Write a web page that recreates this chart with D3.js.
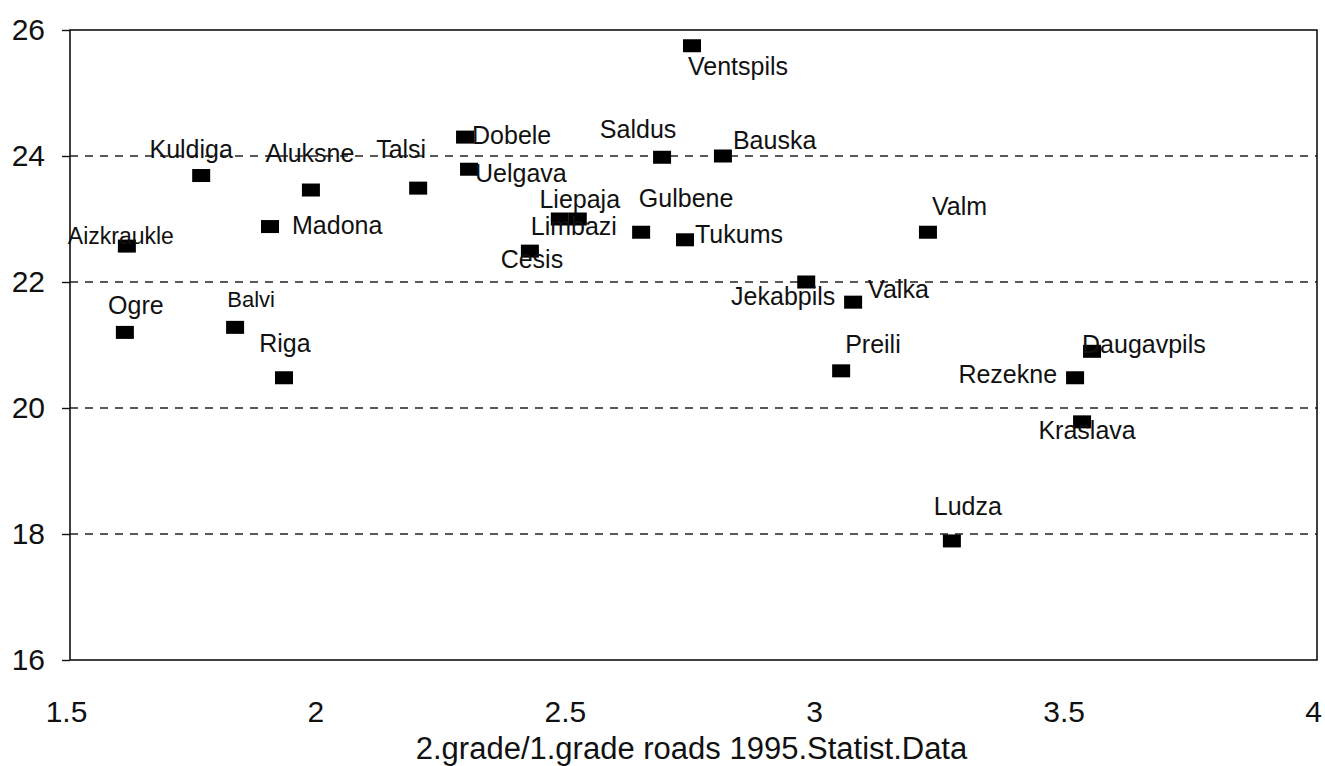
<!doctype html>
<html lang="en">
<head>
<meta charset="utf-8" />
<title>Roads scatter</title>
<script src="https://cdn.jsdelivr.net/npm/d3@7"></script>
<style>
	body { margin: 0; background: #fff; }
	svg { display: block; }
	text { font-family: "Liberation Sans", Arial, sans-serif; fill: #111; }
	.tick-label { font-size: 30px; }
	.axis-title { font-size: 31px; }
	.pt-label { font-size: 25px; }
</style>
</head>
<body>
<svg width="1325" height="766"></svg>
<script>
	// district names and values
	var districts = ["Aizkraukle", "Ogre", "Kuldiga", "Balvi", "Madona", "Riga", "Aluksne", "Talsi",
		"Dobele", "Uelgava", "Cesis", "Limbazi", "Liepaja", "Gulbene", "Saldus", "Tukums",
		"Ventspils", "Bauska", "Jekabpils", "Preili", "Valka", "Valm", "Ludza", "Rezekne",
		"Kraslava", "Daugavpils"];
	var ratio = [1.614, 1.610, 1.763, 1.831, 1.901, 1.929, 1.983, 2.198,
		2.292, 2.300, 2.422, 2.482, 2.518, 2.645, 2.687, 2.733,
		2.747, 2.809, 2.976, 3.046, 3.070, 3.220, 3.268, 3.515,
		3.529, 3.549];
	var yValue = [22.57, 21.2, 23.69, 21.28, 22.88, 20.48, 23.46, 23.49,
		24.3, 23.79, 22.49, 23.0, 23.0, 22.79, 23.98, 22.67,
		25.75, 24.0, 22.0, 20.59, 21.68, 22.79, 17.89, 20.48,
		19.78, 20.9];
	var xTicks = [1.5, 2, 2.5, 3, 3.5, 4];
	var yTicks = [16, 18, 20, 22, 24, 26];
	var gridTicks = [18, 20, 22, 24];
	var xTitle = "2.grade/1.grade roads 1995.Statist.Data";

	// where each label sits around its marker (anchor, dx, dy to baseline, optional size)
	var labelPos = {
		Aizkraukle: ["middle", -6, -2, 23], Ogre: ["middle", 11, -18], Kuldiga: ["middle", -10, -18],
		Balvi: ["middle", 16, -20, 22], Madona: ["start", 22, 7], Riga: ["middle", 1, -26],
		Aluksne: ["middle", -1, -28], Talsi: ["middle", -17, -30], Dobele: ["start", 7, 7],
		Uelgava: ["start", 6, 13], Cesis: ["middle", 2, 17], Limbazi: ["middle", 14, 16],
		Liepaja: ["middle", 2, -11], Gulbene: ["middle", 45, -25], Saldus: ["middle", -24, -19],
		Tukums: ["start", 10, 3], Ventspils: ["start", -4, 29], Bauska: ["start", 10, -7],
		Jekabpils: ["middle", -23, 23], Preili: ["start", 4, -18], Valka: ["start", 15, -4],
		Valm: ["start", 4, -17], Ludza: ["middle", 16, -26], Rezekne: ["end", -18, 5],
		Kraslava: ["middle", 5, 17], Daugavpils: ["start", -10, 2]
	};

	var svg = d3.select("svg");
	var pLeft = 70, pRight = 1317, pTop = 30, pBottom = 660;

	var x = d3.scaleLinear().domain([1.5, 4]).range([pLeft, pRight]);
	var y = d3.scaleLinear().domain([16, 26]).range([pBottom, pTop]);

	var points = districts.map(function (d, i) {
		return { name: d, x: ratio[i], y: yValue[i] };
	});

	// dashed grid
	svg.append("g").selectAll("line")
		.data(gridTicks)
		.join("line")
		.attr("x1", pLeft).attr("x2", pRight)
		.attr("y1", function (d) { return y(d); })
		.attr("y2", function (d) { return y(d); })
		.attr("stroke", "#222")
		.attr("stroke-width", 1.4)
		.attr("stroke-dasharray", "8,7");

	// frame
	svg.append("rect")
		.attr("x", pLeft).attr("y", pTop)
		.attr("width", pRight - pLeft).attr("height", pBottom - pTop)
		.attr("fill", "none")
		.attr("stroke", "#111")
		.attr("stroke-width", 1.6);

	// y axis
	var yAxis = d3.axisLeft(y).tickValues(yTicks).tickSize(8).tickFormat(d3.format("d"));
	var gy = svg.append("g").attr("transform", "translate(" + pLeft + ",0)").call(yAxis);
	gy.attr("font-size", null).attr("font-family", null);
	gy.select(".domain").remove();
	gy.selectAll(".tick line").attr("stroke", "#111").attr("stroke-width", 1.4);
	gy.selectAll(".tick text")
		.attr("class", "tick-label")
		.attr("x", -25)
		.attr("fill", "#111");

	// x axis (labels only)
	var xAxis = d3.axisBottom(x).tickValues(xTicks).tickSize(0).tickFormat(d3.format(""));
	var gx = svg.append("g").attr("transform", "translate(0," + pBottom + ")").call(xAxis);
	gx.attr("font-size", null).attr("font-family", null);
	gx.select(".domain").remove();
	gx.selectAll(".tick text")
		.attr("class", "tick-label")
		.attr("y", 52)
		.attr("dy", "0.32em")
		.attr("dx", -4)
		.attr("fill", "#111");

	svg.append("text")
		.attr("class", "axis-title")
		.attr("x", (pLeft + pRight) / 2 - 2)
		.attr("y", 759)
		.attr("text-anchor", "middle")
		.text(xTitle);

	// markers
	var mw = 18, mh = 13;
	svg.append("g").selectAll("rect")
		.data(points)
		.join("rect")
		.attr("x", function (d) { return x(d.x) - mw / 2; })
		.attr("y", function (d) { return y(d.y) - mh / 2; })
		.attr("width", mw).attr("height", mh)
		.attr("fill", "#000");

	// labels
	svg.append("g").selectAll("text")
		.data(points)
		.join("text")
		.attr("class", "pt-label")
		.attr("x", function (d) { return x(d.x) + labelPos[d.name][1]; })
		.attr("y", function (d) { return y(d.y) + labelPos[d.name][2]; })
		.attr("text-anchor", function (d) { return labelPos[d.name][0]; })
		.style("font-size", function (d) { return labelPos[d.name][3] ? labelPos[d.name][3] + "px" : null; })
		.text(function (d) { return d.name; });
</script>
</body>
</html>
